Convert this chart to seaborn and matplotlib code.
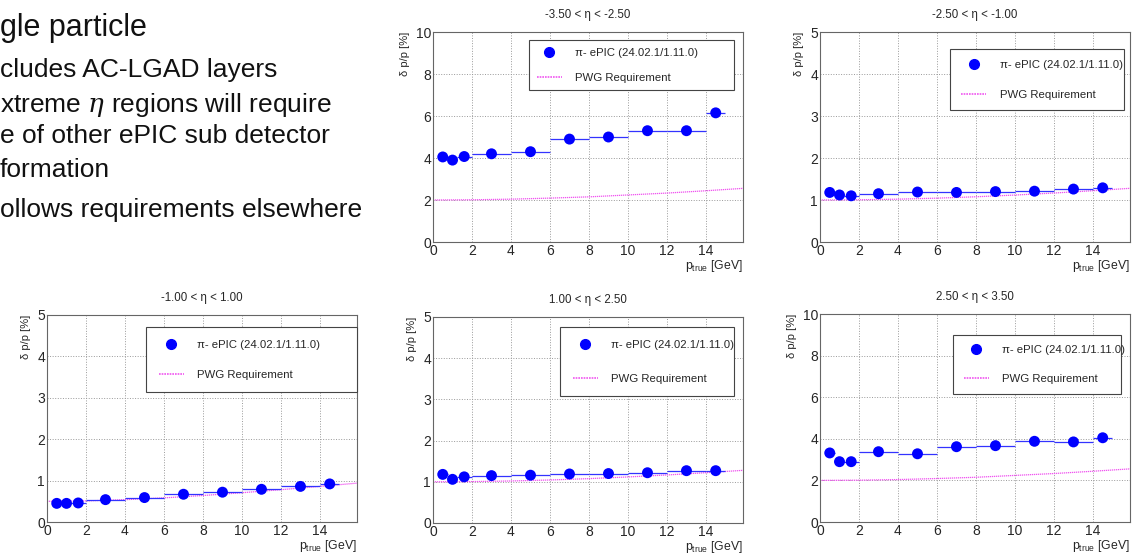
import matplotlib
matplotlib.use("Agg")
import matplotlib.pyplot as plt
from matplotlib.lines import Line2D
from matplotlib.ticker import MultipleLocator
import seaborn as sns

# bins in p_true [GeV]
p_center = [0.5, 1.0, 1.6, 3, 5, 7, 9, 11, 13, 14.5]
p_lo = [0.25, 0.75, 1.25, 2, 4, 6, 8, 10, 12, 14]
p_hi = [0.75, 1.25, 2, 4, 6, 8, 10, 12, 14, 15]

# measured resolution per eta bin
res_m35_m25 = [4.05, 3.9, 4.07, 4.2, 4.3, 4.9, 5.0, 5.3, 5.3, 6.15]
res_m25_m10 = [1.18, 1.12, 1.1, 1.15, 1.19, 1.18, 1.2, 1.21, 1.26, 1.29]
res_m10_p10 = [0.45, 0.45, 0.46, 0.54, 0.59, 0.67, 0.72, 0.79, 0.86, 0.92]
res_p10_p25 = [1.18, 1.06, 1.12, 1.15, 1.16, 1.19, 1.2, 1.22, 1.27, 1.27]
res_p25_p35 = [3.32, 2.9, 2.9, 3.38, 3.28, 3.62, 3.67, 3.88, 3.85, 4.05]

# PWG requirement curves read at p = 0,2,...,16
req_p = [0, 2, 4, 6, 8, 10, 12, 14, 16]
req_far = [2.0, 2.01, 2.04, 2.09, 2.15, 2.24, 2.33, 2.44, 2.56]
req_mid = [1.0, 1.005, 1.02, 1.044, 1.077, 1.118, 1.166, 1.221, 1.281]
req_bar = [0.5, 0.51, 0.539, 0.583, 0.640, 0.707, 0.781, 0.860, 0.943]

titles = ["-3.50 < η < -2.50", "-2.50 < η < -1.00", "-1.00 < η < 1.00",
          "1.00 < η < 2.50", "2.50 < η < 3.50"]
series = [res_m35_m25, res_m25_m10, res_m10_p10, res_p10_p25, res_p25_p35]
reqs = [req_far, req_mid, req_bar, req_mid, req_far]
ymax = [10, 5, 5, 5, 10]

slide_lines = ["gle particle", "cludes AC-LGAD layers", r"xtreme $\eta$ regions will require",
               "e of other ePIC sub detector", "formation", "ollows requirements elsewhere"]

sns.set_theme(style="white")
plt.rcParams['font.family'] = ['Liberation Sans', 'DejaVu Sans']
plt.rcParams['mathtext.fontset'] = 'dejavuserif'

W, H = 1136, 553
fig = plt.figure(figsize=(W / 100, H / 100), dpi=100)

# axes boxes in pixels: left, top, right, bottom
boxes = [(433, 32, 743, 242), (820, 32, 1130, 242), (47, 315, 357, 522),
         (433, 317, 743, 523), (820, 314, 1130, 522)]
# legend boxes in axes fraction: x0, y0, w, h
leg_boxes = [(0.31, 0.71, 0.66, 0.25), (0.42, 0.62, 0.56, 0.30), (0.32, 0.62, 0.68, 0.32),
             (0.41, 0.60, 0.56, 0.35), (0.43, 0.61, 0.54, 0.29)]
leg_spacing = [1.3, 1.75, 1.75, 2.1, 1.65]
leg_pad = [0.65, 0.95, 1.1, 1.1, 0.9]

mag = "#f055f0"
for i in range(5):
    l, t, r, b = boxes[i]
    ax = fig.add_axes([l / W, 1 - b / H, (r - l) / W, (b - t) / H])
    sns.lineplot(x=req_p, y=reqs[i], ax=ax, color=mag, lw=0.9,
                 linestyle=(0, (1, 0.6)), zorder=2)
    ax.hlines(series[i], p_lo, p_hi, color="#3333ff", lw=0.9, zorder=3)
    sns.scatterplot(x=p_center, y=series[i], ax=ax, color="#0000ff", s=62,
                    edgecolor="none", zorder=4)
    ax.set_xlim(0, 15.9)
    ax.set_ylim(0, ymax[i])
    ax.xaxis.set_major_locator(MultipleLocator(2))
    ax.xaxis.set_minor_locator(MultipleLocator(0.4))
    step = 2 if ymax[i] == 10 else 1
    ax.yaxis.set_major_locator(MultipleLocator(step))
    ax.yaxis.set_minor_locator(MultipleLocator(step / 5))
    ax.set_xticks([0, 2, 4, 6, 8, 10, 12, 14])
    ax.tick_params(axis="both", which="major", direction="in", length=6,
                   labelsize=10, pad=1.5, color="#555555")
    ax.tick_params(axis="both", which="minor", direction="in", length=3,
                   color="#555555")
    ax.grid(True, which="major", linestyle=":", color="#999999", lw=0.7)
    for s in ax.spines.values():
        s.set_color("#666666")
        s.set_linewidth(0.8)
    ax.set_title(titles[i], fontsize=8.3, pad=10)
    ax.set_ylabel("δ p/p [%]", fontsize=8, loc="top", labelpad=4)
    ax.set_xlabel(r"p$_{\mathregular{true}}$ [GeV]", fontsize=8.8, loc="right", labelpad=0)
    handles = [
        Line2D([], [], marker="o", color="#0000ff", ls="none", markersize=7),
        Line2D([], [], color=mag, lw=1.2, ls=(0, (1, 0.6))),
    ]
    leg = ax.legend(handles, ["π- ePIC (24.02.1/1.11.0)", "PWG Requirement"],
                    loc="upper left", bbox_to_anchor=leg_boxes[i], mode="expand",
                    fontsize=8.2, frameon=True, fancybox=False, framealpha=1,
                    edgecolor="#444444", borderaxespad=0, labelspacing=leg_spacing[i],
                    borderpad=leg_pad[i], handlelength=2.2, handletextpad=1.2)
    leg.get_frame().set_linewidth(0.8)

# cropped slide text
ys = [36, 77, 112, 143, 177, 217]
sizes = [22, 19, 19, 19, 19, 19]
for txt, y, fs in zip(slide_lines, ys, sizes):
    fig.text(0.0, 1 - y / H, txt, fontsize=fs, va="baseline", ha="left", color="#111111")

fig.savefig("out.png", dpi=100)
